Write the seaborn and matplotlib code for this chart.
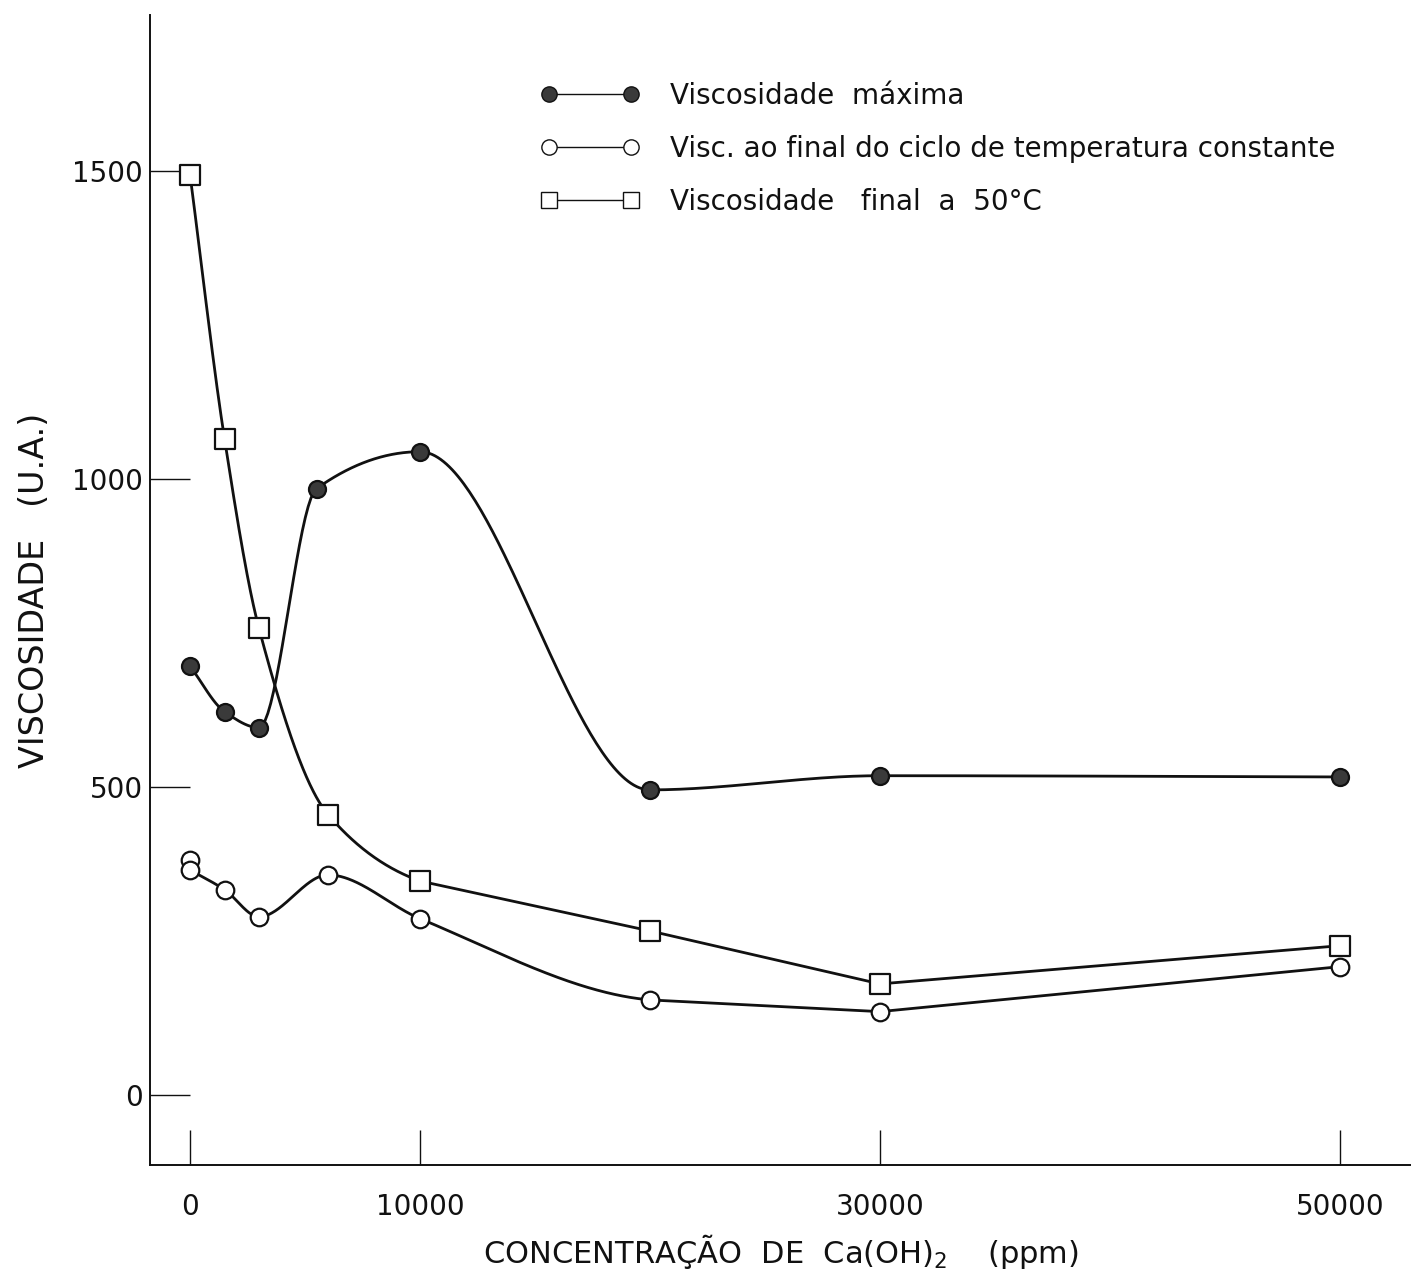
import numpy as np
import pandas as pd
import matplotlib
matplotlib.use("Agg")
import matplotlib.pyplot as plt
import seaborn as sns
from matplotlib.lines import Line2D

# Ca(OH)2 concentration (ppm) and viscosity readings (U.A.)
conc_max = [0, 1500, 3000, 5500, 10000, 20000, 30000, 50000]
visc_max = [696, 622, 596, 984, 1044, 495, 518, 516]

conc_cycle = [0, 0, 1500, 3000, 6000, 10000, 20000, 30000, 50000]
visc_cycle = [381, 365, 333, 289, 357, 286, 154, 135, 208]

conc_final = [0, 1500, 3000, 6000, 10000, 20000, 30000, 50000]
visc_final = [1494, 1065, 757, 455, 347, 266, 180, 242]

legend_labels = [
    "Viscosidade  máxima",
    "Visc. ao final do ciclo de temperatura constante",
    "Viscosidade   final  a  50°C",
]
x_ticks = [0, 10000, 30000, 50000]
y_ticks = [0, 500, 1000, 1500]


def pchip(x, y, xs):
    """Monotone cubic (Fritsch-Carlson) curve through the points."""
    x = np.asarray(x, float)
    y = np.asarray(y, float)
    h = np.diff(x)
    d = np.diff(y) / h
    n = len(x)
    m = np.zeros(n)
    for k in range(1, n - 1):
        if d[k - 1] * d[k] > 0:
            w1 = 2 * h[k] + h[k - 1]
            w2 = h[k] + 2 * h[k - 1]
            m[k] = (w1 + w2) / (w1 / d[k - 1] + w2 / d[k])
    m[0] = d[0]
    m[-1] = d[-1]
    out = np.empty_like(xs)
    for i, xv in enumerate(xs):
        k = min(np.searchsorted(x, xv, side="right") - 1, n - 2)
        k = max(k, 0)
        t = (xv - x[k]) / h[k]
        h00 = 2 * t**3 - 3 * t**2 + 1
        h10 = t**3 - 2 * t**2 + t
        h01 = -2 * t**3 + 3 * t**2
        h11 = t**3 - t**2
        out[i] = h00 * y[k] + h10 * h[k] * m[k] + h01 * y[k + 1] + h11 * h[k] * m[k + 1]
    return out


def smooth_then_straight(x, y, x_split):
    """Smooth curve up to x_split, straight segments afterwards."""
    x = np.asarray(x, float)
    y = np.asarray(y, float)
    xs = np.linspace(x[0], x_split, 400)
    ys = pchip(x, y, xs)
    tail = x > x_split
    return np.concatenate([xs, x[tail]]), np.concatenate([ys, y[tail]])


sns.set_theme(style="white")
plt.rcParams["font.family"] = ["DejaVu Sans"]

fig = plt.figure(figsize=(14.11, 12.82), dpi=100)
ax = fig.add_axes([150 / 1411, 1 - 1165 / 1282, 1 - 150 / 1411, (1165 - 15) / 1282])

lw = 2.0
ink = "#111111"

# curves
cx, cy = smooth_then_straight(conc_max, visc_max, 50000)
sns.lineplot(x=cx, y=cy, ax=ax, color=ink, lw=lw, sort=False, estimator=None)
cx, cy = smooth_then_straight(conc_cycle[1:], visc_cycle[1:], 20000)
sns.lineplot(x=cx, y=cy, ax=ax, color=ink, lw=lw, sort=False, estimator=None)
cx, cy = smooth_then_straight(conc_final, visc_final, 10000)
sns.lineplot(x=cx, y=cy, ax=ax, color=ink, lw=lw, sort=False, estimator=None)

# markers
sns.scatterplot(x=conc_max, y=visc_max, ax=ax, marker="o", s=150,
                color="#3a3a3a", edgecolor=ink, linewidth=1.6, zorder=5)
sns.scatterplot(x=conc_cycle, y=visc_cycle, ax=ax, marker="o", s=160,
                color="white", edgecolor=ink, linewidth=1.6, zorder=5)
sns.scatterplot(x=conc_final, y=visc_final, ax=ax, marker="s", s=190,
                color="white", edgecolor=ink, linewidth=1.6, zorder=5)

ax.set_xlim(-1740, 53090)
ax.set_ylim(-114, 1753)

ax.set_xticks(x_ticks)
ax.set_xticklabels([str(v) for v in x_ticks])
ax.set_yticks(y_ticks)
ax.set_yticklabels([str(v) for v in y_ticks])
ax.tick_params(axis="y", left=True, direction="in", length=29, width=1.0, color=ink,
               labelsize=20, pad=5, labelcolor=ink)
ax.tick_params(axis="x", bottom=True, direction="in", length=25, width=1.0, color=ink,
               labelsize=20, pad=20, labelcolor=ink)

for side in ["top", "right"]:
    ax.spines[side].set_visible(False)
for side in ["left", "bottom"]:
    ax.spines[side].set_color(ink)
    ax.spines[side].set_linewidth(1.4)

ax.set_xlabel("CONCENTRAÇÃO  DE  Ca(OH)$_2$    (ppm)", fontsize=22, color=ink, labelpad=8)
ax.set_ylabel("VISCOSIDADE   (U.A.)", fontsize=24, color=ink, labelpad=15)

handles = [
    Line2D([0], [0], color=ink, lw=1.0, marker="o", markersize=11,
           markerfacecolor="#3a3a3a", markeredgecolor=ink),
    Line2D([0], [0], color=ink, lw=1.0, marker="o", markersize=11,
           markerfacecolor="white", markeredgecolor=ink),
    Line2D([0], [0], color=ink, lw=1.0, marker="s", markersize=11,
           markerfacecolor="white", markeredgecolor=ink),
]
leg = ax.legend(handles, legend_labels, loc="upper left",
                bbox_to_anchor=((530 - 150) / 1261, (1165 - 71) / 1150),
                frameon=False, fontsize=20, numpoints=2, handlelength=3.55,
                handletextpad=1.1, labelspacing=0.9, borderaxespad=0)
for t in leg.get_texts():
    t.set_color(ink)

fig.savefig("out.png", dpi=100, facecolor="white")
